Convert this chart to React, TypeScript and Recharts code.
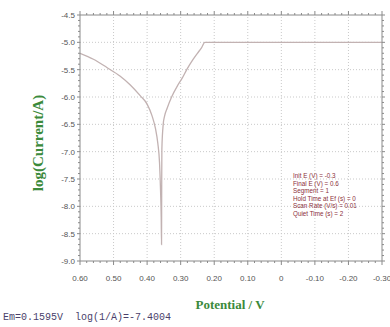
import { LineChart, Line, XAxis, YAxis, ReferenceLine } from "recharts";

// Tafel scan, potential in V, log of current in A
const POTENTIAL = [
  0.6, 0.56, 0.52, 0.48, 0.45, 0.42, 0.4, 0.385, 0.375, 0.368, 0.363, 0.36, 0.358, 0.357,
  0.3565, 0.356, 0.352, 0.348, 0.34, 0.327, 0.31, 0.295, 0.282, 0.265, 0.25, 0.238, 0.228,
  0.1, 0.0, -0.1, -0.2, -0.3,
];
const LOG_CURRENT = [
  -5.2, -5.31, -5.46, -5.62, -5.78, -5.98, -6.13, -6.35, -6.58, -6.85, -7.2, -7.7, -8.2, -8.7,
  -7.6, -6.95, -6.5, -6.35, -6.2, -6.0, -5.8, -5.65, -5.5, -5.33, -5.2, -5.1, -5.0,
  -5.0, -5.0, -5.0, -5.0, -5.0,
];

const X_TICKS = [0.6, 0.5, 0.4, 0.3, 0.2, 0.1, 0, -0.1, -0.2, -0.3];
const Y_TICKS = [-4.5, -5.0, -5.5, -6.0, -6.5, -7.0, -7.5, -8.0, -8.5, -9.0];
// minor ticks: 0.02 V steps, 0.1 decade steps
const X_MINOR = Array.from({ length: 46 }, (_, i) => Math.round((-0.3 + i * 0.02) * 100) / 100);
const Y_MINOR = Array.from({ length: 46 }, (_, i) => Math.round((-9 + i * 0.1) * 10) / 10);

const PARAMS = [
  "Init E (V) = -0.3",
  "Final E (V) = 0.6",
  "Segment = 1",
  "Hold Time at Ef (s) = 0",
  "Scan Rate (V/s) = 0.01",
  "Quiet Time (s) = 2",
];

const STATUS = "Em=0.1595V  log(1/A)=-7.4004";

const data = POTENTIAL.map((e, i) => ({ e, logI: LOG_CURRENT[i] }));

const X_DOMAIN: [number, number] = [-0.3, 0.6];
const Y_DOMAIN: [number, number] = [-9, -4.5];
const AXIS = "#8a8a8a";
const GRID = "#c9c9c9";
const TICK_FAMILY = "'Liberation Sans Narrow', 'Liberation Sans', Arial, sans-serif";

const isMajorX = (v: number) => Math.abs(v * 10 - Math.round(v * 10)) < 1e-6;
const isMajorY = (v: number) => Math.abs(v * 2 - Math.round(v * 2)) < 1e-6;
const fmtX = (v: number) => (Math.abs(v) < 1e-9 ? "0" : v.toFixed(2));
const fmtY = (v: number) => v.toFixed(1);

// one tick component per side: long mark + label on majors, short mark on minors
const BottomTick = ({ x, y, payload }: any) => {
  const major = isMajorX(payload.value);
  return (
    <g>
      <line x1={x} x2={x} y1={y} y2={y + (major ? 4 : 2)} stroke={AXIS} />
      {major && (
        <text x={x} y={y + 20} textAnchor="middle" fontSize={8} fill="#555" fontFamily={TICK_FAMILY}>
          {fmtX(payload.value)}
        </text>
      )}
    </g>
  );
};

const TopTick = ({ x, y, payload }: any) => {
  const major = isMajorX(payload.value);
  return <line x1={x} x2={x} y1={y} y2={y - (major ? 4 : 2)} stroke={AXIS} />;
};

const LeftTick = ({ x, y, payload }: any) => {
  const major = isMajorY(payload.value);
  return (
    <g>
      <line x1={x} x2={x - (major ? 3 : 2)} y1={y} y2={y} stroke={AXIS} />
      {major && (
        <text x={x - 5} y={y + 3} textAnchor="end" fontSize={8} fill="#555" fontFamily={TICK_FAMILY}>
          {fmtY(payload.value)}
        </text>
      )}
    </g>
  );
};

const RightTick = ({ x, y, payload }: any) => {
  const major = isMajorY(payload.value);
  return <line x1={x} x2={x + (major ? 3 : 2)} y1={y} y2={y} stroke={AXIS} />;
};

export default function App() {
  return (
    <div style={{ position: "absolute", left: 0, top: 0, width: 390, height: 327, background: "#fff" }}>
      <LineChart width={390} height={327} data={data} margin={{ top: 14, right: 7, bottom: 65, left: 79 }}>
        <XAxis
          xAxisId="x" dataKey="e" type="number" domain={X_DOMAIN} reversed allowDataOverflow
          ticks={X_MINOR} interval={0} height={1} tick={<BottomTick />} tickLine={false}
          tickSize={0} tickMargin={0} stroke={AXIS}
        />
        <XAxis
          xAxisId="top" dataKey="e" orientation="top" type="number" domain={X_DOMAIN} reversed allowDataOverflow
          ticks={X_MINOR} interval={0} height={1} tick={<TopTick />} tickLine={false}
          tickSize={0} tickMargin={0} stroke={AXIS}
        />
        <YAxis
          yAxisId="y" type="number" domain={Y_DOMAIN} allowDataOverflow ticks={Y_MINOR} interval={0}
          width={1} tick={<LeftTick />} tickLine={false} tickSize={0} tickMargin={0} stroke={AXIS}
        />
        <YAxis
          yAxisId="right" orientation="right" type="number" domain={Y_DOMAIN} allowDataOverflow
          ticks={Y_MINOR} interval={0} width={1} tick={<RightTick />} tickLine={false}
          tickSize={0} tickMargin={0} stroke={AXIS}
        />
        {X_TICKS.slice(1, -1).map((v) => (
          <ReferenceLine key={`gx${v}`} xAxisId="x" yAxisId="y" x={v} stroke={GRID} strokeDasharray="1 2" />
        ))}
        {Y_TICKS.slice(1, -1).map((v) => (
          <ReferenceLine key={`gy${v}`} xAxisId="x" yAxisId="y" y={v} stroke={GRID} strokeDasharray="1 2" />
        ))}
        {/* invisible copy so the frame axes on top/right get a scale */}
        <Line
          xAxisId="top" yAxisId="right" dataKey="logI" type="linear" stroke="none"
          dot={false} isAnimationActive={false}
        />
        <Line
          xAxisId="x" yAxisId="y" dataKey="logI" type="monotone" stroke="#c2b2b2" strokeWidth={1.3}
          dot={false} isAnimationActive={false}
        />
      </LineChart>

      <div style={{
        position: "absolute", left: 38, top: 143, transform: "translate(-50%, -50%) rotate(-90deg)",
        fontFamily: "'Liberation Serif', serif", fontWeight: 700, fontSize: 15, color: "#3b8a3b", whiteSpace: "nowrap",
      }}>
        log(Current/A)
      </div>

      <div style={{
        position: "absolute", left: 230, top: 305, transform: "translate(-50%, -50%)",
        fontFamily: "'Liberation Serif', serif", fontWeight: 700, fontSize: 13, color: "#3b8a3b", whiteSpace: "nowrap",
      }}>
        Potential / V
      </div>

      <div style={{
        position: "absolute", left: 293, top: 172, fontFamily: "'Liberation Sans', Arial, sans-serif",
        fontSize: 6.3, lineHeight: "7.6px", color: "#8b2f3a", whiteSpace: "nowrap",
      }}>
        {PARAMS.map((p) => <div key={p}>{p}</div>)}
      </div>

      <div style={{
        position: "absolute", left: 3, top: 312, fontFamily: "'Liberation Mono', 'DejaVu Sans Mono', monospace",
        fontSize: 10, color: "#4a3f6b", whiteSpace: "pre",
      }}>
        {STATUS}
      </div>
    </div>
  );
}
